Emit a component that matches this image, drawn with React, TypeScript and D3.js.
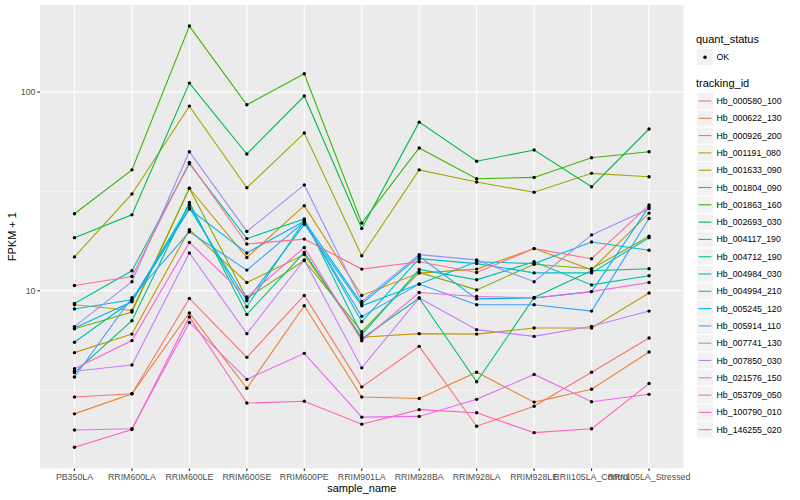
import React from "react";
import * as d3 from "d3";

const categories = ["PB350LA","RRIM600LA","RRIM600LE","RRIM600SE","RRIM600PE","RRIM901LA","RRIM928BA","RRIM928LA","RRIM928LE","RRII105LA_Control","RRII105LA_Stressed"];

const trackingIds = ["Hb_000580_100","Hb_000622_130","Hb_000926_200","Hb_001191_080","Hb_001633_090","Hb_001804_090","Hb_001863_160","Hb_002693_030","Hb_004117_190","Hb_004712_190","Hb_004984_030","Hb_004994_210","Hb_005245_120","Hb_005914_110","Hb_007741_130","Hb_007850_030","Hb_021576_150","Hb_053709_050","Hb_100790_010","Hb_146255_020"];

const seriesColors = ["#F8766D","#EA8331","#D89000","#C09B00","#A3A500","#7CAE00","#39B600","#00BB4E","#00BF7D","#00C1A3","#00BFC4","#00BAE0","#00B0F6","#35A2FF","#9590FF","#C77CFF","#E76BF3","#FA62DB","#FF62BC","#FF6C91"];

const s000580 = [2.92, 3.03, 9.15, 4.62, 9.47, 3.28, 5.25, 2.08, 2.62, 3.89, 5.78];
const s000622 = [2.40, 3.03, 7.73, 3.23, 8.4, 2.92, 2.87, 3.89, 2.75, 3.19, 4.92];
const s000926 = [8.5, 7.96, 32.8, 14.7, 26.8, 9.47, 12.27, 12.85, 16.3, 12.75, 24.6];
const s001191 = [4.88, 6.05, 20.3, 11.0, 15.2, 5.83, 6.08, 6.05, 6.49, 6.49, 9.74];
const s001633 = [14.8, 30.7, 85, 33, 62.2, 15.0, 40.6, 35.3, 31.3, 39.0, 37.5];
const s001804 = [6.44, 7.81, 32.8, 9.15, 14.2, 6.22, 12.36, 10.1, 13.6, 12.9, 18.8];
const s001863 = [24.4, 40.6, 215, 86.3, 123.6, 21.9, 52.3, 36.6, 37.2, 46.7, 50.1];
const s002693 = [18.5, 24.1, 111, 48.8, 95.5, 20.6, 70.6, 44.9, 51.1, 33.4, 65.2];
const s004117 = [3.87, 7.06, 27.8, 7.6, 15.6, 5.74, 9.2, 3.48, 9.25, 12.6, 12.9];
const s004712 = [8.63, 12.6, 43.6, 18.3, 23.0, 6.01, 12.8, 11.35, 14.0, 10.7, 11.9];
const s004984 = [5.5, 8.9, 27.0, 8.3, 22.5, 6.99, 14.5, 13.7, 12.3, 12.3, 18.5];
const s004994 = [8.1, 9.0, 26.1, 8.9, 21.6, 8.4, 10.8, 14.0, 13.7, 17.6, 16.0];
const s005245 = [6.5, 8.8, 25.8, 15.5, 22.4, 8.6, 14.9, 9.1, 9.2, 9.9, 26.5];
const s005914 = [3.68, 9.22, 19.8, 12.7, 22.2, 7.43, 10.8, 8.5, 8.5, 7.9, 23.1];
const s007741 = [6.6, 11.1, 50.1, 19.9, 34.1, 8.84, 15.2, 14.3, 11.1, 19.1, 25.9];
const s007850 = [3.93, 4.23, 15.5, 6.08, 14.3, 4.09, 9.2, 6.37, 5.89, 6.62, 7.9];
const s021576 = [1.99, 2.02, 6.93, 3.58, 4.84, 2.31, 2.33, 2.84, 3.79, 2.76, 3.01];
const s053709 = [4.05, 5.61, 17.5, 9.3, 16.5, 5.6, 9.8, 9.36, 9.2, 9.9, 11.0];
const s100790 = [1.63, 2.0, 7.38, 2.72, 2.78, 2.13, 2.52, 2.43, 1.93, 2.02, 3.41];
const s146255 = [10.63, 11.8, 44.3, 17.2, 18.2, 12.85, 14.0, 12.36, 16.3, 14.5, 27.0];

const seriesValues = [s000580, s000622, s000926, s001191, s001633, s001804, s001863, s002693, s004117, s004712, s004984, s004994, s005245, s005914, s007741, s007850, s021576, s053709, s100790, s146255];

const yMajorTicks = [10, 100];
const yMinorTicks = [Math.pow(10, 0.5), Math.pow(10, 1.5)];

const FONT = "'Liberation Sans', Arial, Helvetica, sans-serif";

export default function App() {
  const W = 800, H = 500;
  const left = 40, right = 683.5, top = 5, bottom = 468.3;

  const x = d3.scalePoint<string>().domain(categories).range([left, right]).padding(0.6);

  const all = seriesValues.flat();
  const lmin = Math.log10(d3.min(all) as number);
  const lmax = Math.log10(d3.max(all) as number);
  const ex = (lmax - lmin) * 0.05;
  const y = d3.scaleLog().domain([Math.pow(10, lmin - ex), Math.pow(10, lmax + ex)]).range([bottom, top]);

  const line = d3.line<number>().x((_, i) => x(categories[i]) as number).y((v) => y(v));

  const legX = 697;
  const keyStart = 93;
  const keyStep = 17.3;

  return (
    <svg width={W} height={H} style={{ position: "absolute", left: 0, top: 0, background: "#fff" }} fontFamily={FONT}>
      <rect x={0} y={0} width={W} height={H} fill="#fff" />
      <rect x={left} y={top} width={right - left} height={bottom - top} fill="#EBEBEB" />
      {yMinorTicks.map((t) => (
        <line key={"mn" + t} x1={left} x2={right} y1={y(t)} y2={y(t)} stroke="#fff" strokeWidth={0.55} />
      ))}
      {yMajorTicks.map((t) => (
        <line key={"mj" + t} x1={left} x2={right} y1={y(t)} y2={y(t)} stroke="#fff" strokeWidth={1.1} />
      ))}
      {categories.map((c) => (
        <line key={"vx" + c} x1={x(c)} x2={x(c)} y1={top} y2={bottom} stroke="#fff" strokeWidth={1.1} />
      ))}
      {seriesValues.map((vals, i) => (
        <path key={"ln" + i} d={line(vals) as string} fill="none" stroke={seriesColors[i]} strokeWidth={1.1} />
      ))}
      {seriesValues.map((vals, i) =>
        vals.map((v, j) => (
          <circle key={"pt" + i + "_" + j} cx={x(categories[j])} cy={y(v)} r={1.7} fill="#000" />
        ))
      )}
      {yMajorTicks.map((t) => (
        <g key={"yt" + t}>
          <line x1={left - 2.7} x2={left} y1={y(t)} y2={y(t)} stroke="#333" strokeWidth={1.1} />
          <text x={left - 4.5} y={y(t)} dy="0.35em" textAnchor="end" fontSize={8.8} fill="#4D4D4D">{t}</text>
        </g>
      ))}
      {categories.map((c) => (
        <g key={"xt" + c}>
          <line x1={x(c)} x2={x(c)} y1={bottom} y2={bottom + 2.7} stroke="#333" strokeWidth={1.1} />
          <text x={x(c)} y={bottom + 11.2} textAnchor="middle" fontSize={8.8} fill="#4D4D4D">{c}</text>
        </g>
      ))}
      <text x={(left + right) / 2} y={491.5} textAnchor="middle" fontSize={11} fill="#000">sample_name</text>
      <text transform={`translate(16,${(top + bottom) / 2}) rotate(-90)`} textAnchor="middle" fontSize={11} fill="#000">FPKM + 1</text>

      <text x={696} y={43} fontSize={11} fill="#000">quant_status</text>
      <rect x={legX} y={49.2} width={16} height={16} fill="#F2F2F2" />
      <circle cx={legX + 8} cy={57.2} r={1.7} fill="#000" />
      <text x={716.5} y={57.2} dy="0.35em" fontSize={8.8} fill="#000">OK</text>

      <text x={696} y={87} fontSize={11} fill="#000">tracking_id</text>
      {trackingIds.map((id, i) => {
        const cy = keyStart + 8 + i * keyStep;
        return (
          <g key={"lg" + id}>
            <rect x={legX} y={cy - 8} width={16} height={16} fill="#F2F2F2" />
            <line x1={legX + 1.6} x2={legX + 14.4} y1={cy} y2={cy} stroke={seriesColors[i]} strokeWidth={1.1} />
            <text x={716.5} y={cy} dy="0.35em" fontSize={8.8} fill="#000">{id}</text>
          </g>
        );
      })}
    </svg>
  );
}
